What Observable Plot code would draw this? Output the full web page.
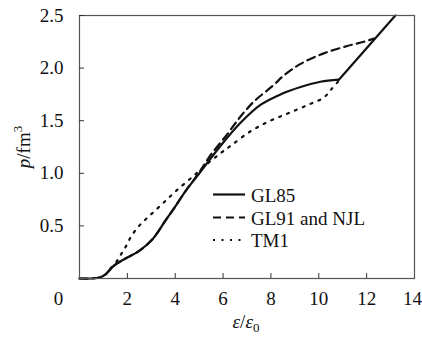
<!DOCTYPE html>
<html>
<head>
<meta charset="utf-8">
<script src="https://cdn.jsdelivr.net/npm/d3@7"></script>
<script src="https://cdn.jsdelivr.net/npm/@observablehq/plot@0.6"></script>
<style>
  html, body { margin: 0; padding: 0; background: #fff; }
  svg { display: block; }
</style>
</head>
<body>
<div id="chart"></div>
<script>
// Series names
const seriesNames = ["GL85", "GL91 and NJL", "TM1"];

// GL85 (solid) – curved part and straight part after the kink
const gl85X = [0, 0.5, 0.84, 1.09, 1.43, 1.92, 2.48, 3.04, 3.59, 3.9, 4.46, 5.01, 5.89, 6.73, 7.56, 8.4, 9.24, 10.07, 10.84];
const gl85Y = [0, 0, 0.01, 0.04, 0.12, 0.19, 0.26, 0.37, 0.55, 0.65, 0.84, 1.0, 1.26, 1.48, 1.65, 1.75, 1.82, 1.87, 1.89];
const gl85LinX = [10.84, 13.2];
const gl85LinY = [1.89, 2.5];

// GL91 and NJL (dashed)
const gl91X = [0, 0.5, 0.84, 1.09, 1.43, 1.92, 2.48, 3.04, 3.59, 3.9, 4.46, 5.01, 5.47, 6.17, 6.73, 7.28, 8.12, 8.54, 9.24, 10.21, 11.19, 11.88, 12.3];
const gl91Y = [0, 0, 0.01, 0.04, 0.12, 0.19, 0.26, 0.37, 0.55, 0.65, 0.84, 1.01, 1.17, 1.37, 1.54, 1.68, 1.84, 1.93, 2.04, 2.14, 2.21, 2.25, 2.28];

// TM1 (dotted)
const tm1X = [1.3, 1.45, 1.71, 1.95, 2.16, 2.45, 2.8, 3.23, 3.65, 4.07, 4.74, 5.34, 5.89, 6.31, 7.15, 7.98, 8.82, 9.65, 10.21, 10.53, 10.84];
const tm1Y = [0.1, 0.13, 0.22, 0.31, 0.40, 0.49, 0.57, 0.66, 0.75, 0.84, 0.97, 1.09, 1.19, 1.26, 1.40, 1.50, 1.58, 1.66, 1.72, 1.80, 1.88];

// Tick values
const xTicks = [2, 4, 6, 8, 10, 12];
const xLastTick = [14];
const xOriginTick = [0];
const yTicks = [0.5, 1.0, 1.5, 2.0, 2.5];

const toRows = (xs, ys) => xs.map((x, i) => ({x, y: ys[i]}));
const gl85Curve = toRows(gl85X, gl85Y);
const gl85Lin = toRows(gl85LinX, gl85LinY);
const gl91 = toRows(gl91X, gl91Y);
const tm1 = toRows(tm1X, tm1Y);

const INK = "#111";
const FONT = "serif";

const plot = Plot.plot({
  width: 422,
  height: 337,
  marginLeft: 79,
  marginRight: 8,
  marginTop: 15,
  marginBottom: 59,
  x: {domain: [0, 14]},
  y: {domain: [0, 2.5]},
  marks: [
    Plot.line(gl85Curve, {x: "x", y: "y", curve: "catmull-rom", stroke: INK, strokeWidth: 2.2}),
    Plot.line(gl85Lin, {x: "x", y: "y", curve: "linear", stroke: INK, strokeWidth: 2.2}),
    Plot.line(gl91, {x: "x", y: "y", curve: "catmull-rom", stroke: INK, strokeWidth: 2.2, strokeDasharray: "8,5"}),
    Plot.line(tm1, {x: "x", y: "y", curve: "catmull-rom", stroke: INK, strokeWidth: 2.2, strokeDasharray: "2,6.5"}),
    Plot.frame({stroke: "#555", strokeWidth: 1.2}),
    Plot.axisX({ticks: xTicks, tickSize: -5, tickPadding: 18, tickFormat: d => String(d), label: null, stroke: "#333"}),
    Plot.axisX({ticks: xLastTick, tickSize: 0, tickPadding: 13, dx: -2, tickFormat: d => String(d), label: null}),
    Plot.axisX({ticks: xOriginTick, tickSize: 0, tickPadding: 13, dx: -21, tickFormat: d => String(d), label: null}),
    Plot.axisY({ticks: yTicks, tickSize: -5, tickPadding: 21, tickFormat: d => d.toFixed(1), label: null, stroke: "#333"})
  ]
});

document.getElementById("chart").appendChild(plot);

const svg = d3.select(plot);

// x-axis label: ε/ε0
const xl = svg.append("text")
  .attr("x", 246).attr("y", 328)
  .attr("text-anchor", "middle");
xl.append("tspan").attr("font-style", "italic").text("ε");
xl.append("tspan").text("/");
xl.append("tspan").attr("font-style", "italic").text("ε");
xl.append("tspan").attr("font-size", 13).attr("dy", 4).text("0");

// y-axis label: p/fm3
const yl = svg.append("text")
  .attr("transform", "translate(30,147) rotate(-90)")
  .attr("text-anchor", "middle");
yl.append("tspan").attr("font-style", "italic").text("p");
yl.append("tspan").text("/fm");
yl.append("tspan").attr("font-size", 13).attr("dy", -8).text("3");

// Legend
const dashes = [null, "8,5", "2,6.5"];
const rowY = [194.5, 217.5, 240];
seriesNames.forEach((name, i) => {
  svg.append("line")
    .attr("x1", 213).attr("x2", 245)
    .attr("y1", rowY[i]).attr("y2", rowY[i])
    .attr("stroke", INK).attr("stroke-width", 2.2)
    .attr("stroke-dasharray", dashes[i]);
  svg.append("text")
    .attr("x", 251).attr("y", rowY[i] + 7)
    .attr("text-anchor", "start")
    .text(name);
});

// Serif font on every text element
svg.selectAll("g").attr("font-family", null).attr("font-size", null);
svg.attr("font-family", FONT).attr("font-size", 19);
svg.selectAll("text")
  .attr("font-family", FONT)
  .attr("font-size", 19)
  .attr("fill", INK);
</script>
</body>
</html>
